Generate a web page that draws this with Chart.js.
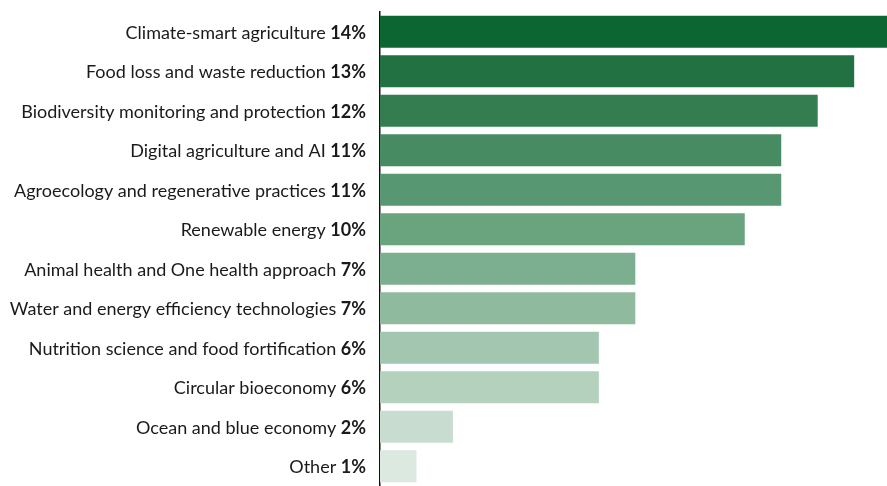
<!DOCTYPE html>
<html>
<head>
<meta charset="utf-8">
<script src="https://cdn.jsdelivr.net/npm/chart.js@4"></script>
<style>
  html, body { margin: 0; padding: 0; background: #fff; }
  #wrap { width: 887px; height: 486px; position: relative; }
</style>
</head>
<body>
<div id="wrap"><canvas id="topics"></canvas></div>
<script>
var categories = [
  "Climate-smart agriculture",
  "Food loss and waste reduction",
  "Biodiversity monitoring and protection",
  "Digital agriculture and AI",
  "Agroecology and regenerative practices",
  "Renewable energy",
  "Animal health and One health approach",
  "Water and energy efficiency technologies",
  "Nutrition science and food fortification",
  "Circular bioeconomy",
  "Ocean and blue economy",
  "Other"
];
var shares = [14, 13, 12, 11, 11, 10, 7, 7, 6, 6, 2, 1];
var barColors = [
  "#0b6631", "#217143", "#337d51", "#468b62", "#579872", "#69a47e",
  "#7caf8f", "#8fba9e", "#a2c6af", "#b4d1be", "#c8ddcf", "#dbe9e0"
];

// category name in regular weight, percentage in bold, right aligned before the axis
var labelPlugin = {
  id: 'mixedLabels',
  afterDraw: function(chart) {
    var ctx = chart.ctx;
    var y = chart.scales.y;
    var right = chart.chartArea.left - 14;
    ctx.save();
    ctx.fillStyle = '#1a1a1a';
    ctx.textBaseline = 'middle';
    ctx.textAlign = 'right';
    categories.forEach(function(name, i) {
      var py = y.getPixelForValue(i) + 1;
      var pct = shares[i] + '%';
      ctx.font = 'bold 18px Lato';
      ctx.fillText(pct, right, py);
      var w = ctx.measureText(pct).width;
      ctx.font = '18px Lato';
      ctx.fillText(name + ' ', right - w, py);
    });
    ctx.restore();
  }
};

new Chart(document.getElementById('topics'), {
  type: 'bar',
  data: {
    labels: categories,
    datasets: [{
      data: shares,
      backgroundColor: barColors,
      borderWidth: 0,
      categoryPercentage: 1,
      barPercentage: 0.81
    }]
  },
  options: {
    indexAxis: 'y',
    responsive: true,
    maintainAspectRatio: false,
    animation: false,
    layout: { padding: { top: 12, bottom: 0, left: 380, right: 0 } },
    plugins: {
      legend: { display: false },
      tooltip: { enabled: false }
    },
    scales: {
      x: {
        display: false,
        min: 0,
        max: 13.9
      },
      y: {
        grid: { display: false },
        border: { display: true, color: '#111', width: 1.5 },
        ticks: { display: false },
        afterFit: function(scale) { scale.width = 0; }
      }
    }
  },
  plugins: [labelPlugin]
});
</script>
</body>
</html>
